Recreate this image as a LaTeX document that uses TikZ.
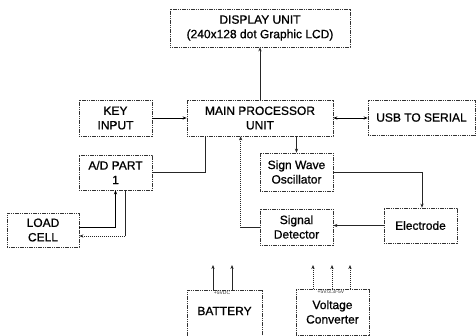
\documentclass[tikz,border=0pt]{standalone}
\usepackage{fontspec}
\setmainfont{Liberation Sans}
\newfontfamily\heavyfont[FakeBold=0.8]{Liberation Sans}
\usetikzlibrary{arrows.meta}
\begin{document}
\begin{tikzpicture}[x=1pt,y=-1pt,
  txt/.style={align=center, inner sep=0pt, font=\heavyfont\fontsize{12}{14.5}\selectfont, text=black},
  box/.style={txt, draw=black!80, line width=0.7pt, dash pattern=on 1.2pt off 0.6pt},
  conn/.style={draw=black!85, line width=0.7pt, dash pattern=on 1.5pt off 0.5pt},
  solidc/.style={draw=black, line width=0.8pt},
  tip/.style={-{Stealth[length=4pt,width=3.2pt]}},
  tiny/.style={font=\fontsize{5}{5}\selectfont, text=black!80, inner sep=0pt}]
\useasboundingbox (0,0) rectangle (476,335);
\fill[white] (0,0) rectangle (476,335);

\node[box, minimum width=180, minimum height=38] (disp) at (260,28) {DISPLAY UNIT\\(240x128 dot Graphic LCD)};
\node[box, minimum width=73, minimum height=36] (key) at (115.5,118) {KEY\\INPUT};
\node[box, minimum width=146, minimum height=36] (main) at (260,118) {MAIN PROCESSOR\\UNIT};
\node[box, minimum width=107, minimum height=35] (usb) at (421.5,117.5) {USB TO SERIAL};
\node[box, minimum width=73, minimum height=35] (ad) at (115.5,172.5) {A/D PART\\1};
\node[box, minimum width=72, minimum height=34] (load) at (43,230) {LOAD\\CELL};
\node[box, minimum width=73, minimum height=38] (sine) at (296.5,172) {Sign Wave\\Oscillator};
\node[box, minimum width=73, minimum height=36] (det) at (296.5,227) {Signal\\Detector};
\node[box, minimum width=73, minimum height=35] (elec) at (420.5,225.5) {Electrode};
\node[box, minimum width=75, minimum height=46] (bat) at (224.5,313) {};
\node[txt] (battxt) at (224.5,311) {BATTERY};
\node[box, minimum width=73, minimum height=46] (vc) at (332.5,312.5) {};
\node[txt] (vctxt) at (332.5,312) {Voltage\\Converter};
\node[tiny] (battiny) at (222,292.5) {+5VDC};
\node[tiny] (vctiny) at (331,292) {+5V/3.3/-5V};

% connectors
\draw[conn, tip] (main) -- (disp);
\draw[solidc, tip] (key.east) -- (main.west);
\draw[solidc, {Stealth[length=4pt,width=3.2pt]}-{Stealth[length=4pt,width=3.2pt]}] (main.east) -- (main.east -| usb.west);
\draw[conn] (ad.east) -| ([xshift=19pt]main.south west);
\draw[conn, tip] (det.west) -| ([xshift=54pt]main.south west);
\draw[conn, tip] (main.south -| sine.north) -- (sine.north);
\draw[conn, tip] (sine.east) -| ([xshift=1.5pt]elec.north);
\draw[conn, tip] (elec.west) -- (elec.west -| det.east);
\draw[solidc, tip] ([yshift=3pt]load.east) -| (ad.south);
\draw[conn, tip] ([xshift=10pt]ad.south) |- ([yshift=-6pt]load.east);

\coordinate (b1) at (213,265);
\coordinate (b2) at (232,265);
\coordinate (v1) at (313,265);
\coordinate (v2) at (332,265);
\coordinate (v3) at (350,265);
\draw[conn, tip] (b1 |- bat.north) -- (b1);
\draw[conn, tip] (b2 |- bat.north) -- (b2);
\draw[conn, tip] (v1 |- vc.north) -- (v1);
\draw[conn, tip] (v2 |- vc.north) -- (v2);
\draw[conn, tip] (v3 |- vc.north) -- (v3);
\end{tikzpicture}
\end{document}
